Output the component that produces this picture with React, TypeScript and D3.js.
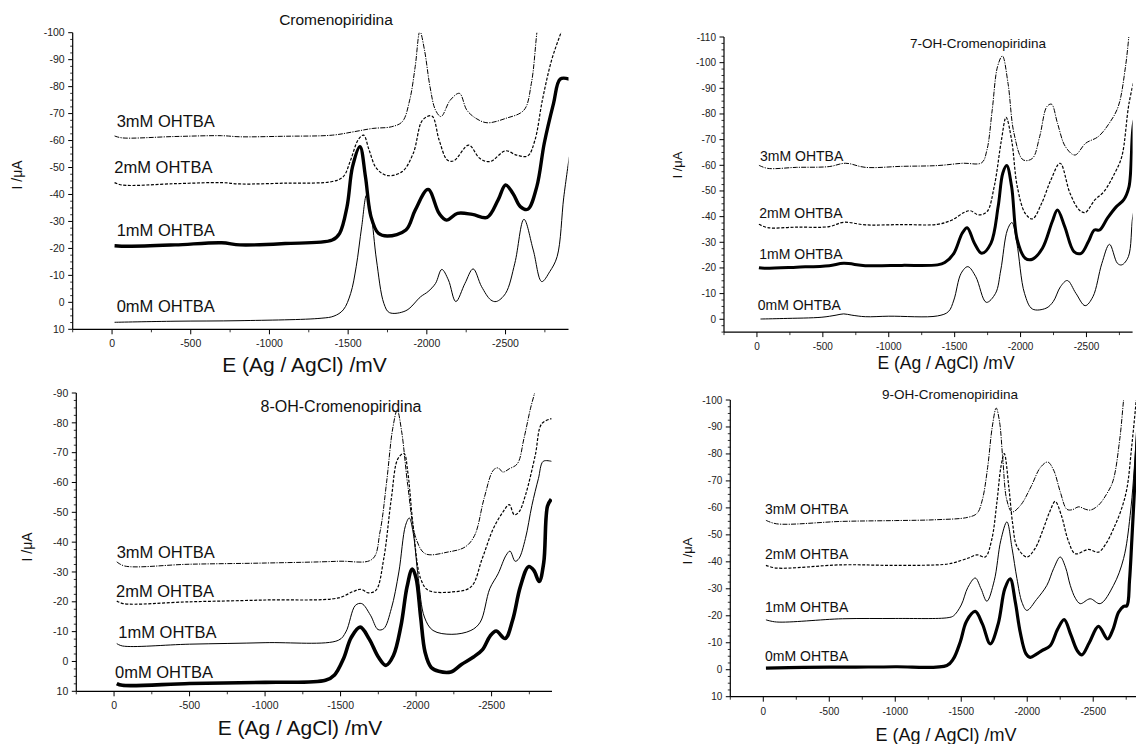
import React from 'react';
import * as d3 from 'd3';

type Pt = [number, number]; // [E in mV, I in µA]

// ---- shared labels and ticks ----
const seriesNames = ['0mM OHTBA', '1mM OHTBA', '2mM OHTBA', '3mM OHTBA'];
const xTickValues = [0, -500, -1000, -1500, -2000, -2500];
const yTicksCromeno = [10, 0, -10, -20, -30, -40, -50, -60, -70, -80, -90, -100];
const yTicks7OH = [0, -10, -20, -30, -40, -50, -60, -70, -80, -90, -100, -110];
const yTicks8OH = [10, 0, -10, -20, -30, -40, -50, -60, -70, -80, -90];
const yTicks9OH = [10, 0, -10, -20, -30, -40, -50, -60, -70, -80, -90, -100];

// ---- Cromenopiridina ----
const cromeno0: Pt[] = [[-16,7.4],[-400,7],[-813,6.8],[-1328,5.9],[-1410,5.1],[-1469,2.8],[-1516,-3.3],[-1551,-13.2],[-1586,-28],[-1617,-39.8],[-1645,-33],[-1680,-15.7],[-1727,0.4],[-1762,3.8],[-1867,3.1],[-1961,-2.1],[-2008,-4],[-2055,-7],[-2095,-12.2],[-2137,-8.3],[-2184,-0.3],[-2242,-7],[-2294,-12.4],[-2348,-5.8],[-2406,-0.9],[-2441,-0.3],[-2500,-3.3],[-2559,-14.5],[-2617,-30.8],[-2676,-19.4],[-2730,-7.7],[-2781,-11.4],[-2828,-17],[-2870,-39],[-2905,-54]];
const cromeno1: Pt[] = [[-16,-21],[-100,-20.8],[-400,-21.3],[-696,-22.1],[-813,-21.3],[-1100,-21.8],[-1399,-23.1],[-1446,-25.6],[-1493,-35.5],[-1528,-50.3],[-1575,-57.7],[-1610,-46.6],[-1645,-31.8],[-1692,-25.6],[-1750,-24.6],[-1867,-26.8],[-1926,-34.2],[-2008,-41.9],[-2078,-33],[-2125,-30.5],[-2195,-33],[-2289,-32.6],[-2383,-31.5],[-2453,-38],[-2500,-43.5],[-2547,-40.4],[-2594,-35.5],[-2641,-34.5],[-2699,-43],[-2746,-59],[-2805,-73.8],[-2847,-82.8],[-2905,-82.8]];
const cromeno2: Pt[] = [[-16,-44.4],[-63,-43.5],[-400,-44],[-696,-44.4],[-813,-43.9],[-1100,-44.2],[-1399,-44.8],[-1469,-46.6],[-1516,-52.8],[-1563,-60.2],[-1598,-62],[-1633,-56.5],[-1680,-49.7],[-1750,-47],[-1844,-48.5],[-1914,-55.3],[-1973,-67.6],[-2032,-69.1],[-2078,-60.2],[-2130,-52.8],[-2172,-52.5],[-2266,-58.3],[-2336,-53.4],[-2401,-52.2],[-2500,-56.2],[-2570,-54.6],[-2641,-54.3],[-2687,-60.2],[-2734,-75],[-2793,-89.9],[-2852,-100],[-2900,-108]];
const cromeno3: Pt[] = [[-16,-61.7],[-63,-61],[-400,-61.5],[-696,-61.8],[-813,-61.4],[-1100,-61.6],[-1399,-62],[-1539,-63.3],[-1657,-64.5],[-1774,-65.1],[-1844,-67],[-1891,-75],[-1926,-87.4],[-1956,-100.5],[-1985,-93.6],[-2020,-80],[-2055,-71.3],[-2090,-68.9],[-2149,-75],[-2207,-77.5],[-2254,-71.3],[-2313,-68.2],[-2383,-66.6],[-2500,-68.2],[-2617,-71.3],[-2664,-81.2],[-2699,-100],[-2730,-115]];

// ---- 7-OH-Cromenopiridina ----
const oh7_0: Pt[] = [[-27,-0.1],[-200,-0.3],[-493,-0.8],[-600,-1.6],[-658,-2.1],[-720,-1.6],[-822,-1],[-1000,-1.2],[-1370,-1.3],[-1453,-3],[-1494,-7.5],[-1549,-17.9],[-1600,-20.5],[-1660,-16.6],[-1740,-6.6],[-1810,-10.1],[-1850,-19.2],[-1900,-34.8],[-1935,-37.7],[-1972,-29.6],[-2030,-10.1],[-2090,-4],[-2193,-4.3],[-2248,-6.9],[-2303,-12.7],[-2355,-15.1],[-2420,-10.1],[-2490,-5.3],[-2549,-8.8],[-2617,-21.8],[-2675,-29.2],[-2735,-21.8],[-2768,-21.2],[-2818,-24.4],[-2851,-40],[-2884,-47.8]];
const oh7_1: Pt[] = [[-15,-20.1],[-55,-19.9],[-300,-20.3],[-548,-20.9],[-658,-21.8],[-822,-20.9],[-1100,-21],[-1370,-21.2],[-1425,-22.1],[-1494,-25.7],[-1557,-33.5],[-1595,-35.7],[-1650,-29.6],[-1705,-25.7],[-1775,-29.6],[-1830,-43.9],[-1865,-56.9],[-1895,-59.9],[-1932,-51.7],[-1975,-30.9],[-2035,-23.8],[-2090,-23.4],[-2166,-27.7],[-2240,-38],[-2280,-42.6],[-2335,-36.1],[-2405,-26.4],[-2460,-25.7],[-2515,-30.3],[-2560,-34.8],[-2600,-34.8],[-2659,-39.4],[-2727,-43.9],[-2782,-46.5],[-2823,-51.7],[-2864,-77.7],[-2884,-78.3]];
const oh7_2: Pt[] = [[-15,-37],[-82,-35.7],[-300,-35.9],[-548,-36.1],[-658,-37.8],[-822,-36.8],[-1100,-36.9],[-1370,-37],[-1480,-38.7],[-1570,-41.6],[-1620,-42.3],[-1680,-40.7],[-1745,-41.9],[-1800,-51.7],[-1855,-69.9],[-1890,-78.7],[-1932,-69.9],[-1975,-51.7],[-2035,-41.3],[-2090,-39.1],[-2160,-45.2],[-2230,-54.3],[-2300,-60.8],[-2375,-49.1],[-2445,-42.6],[-2490,-41.6],[-2563,-46.5],[-2632,-49.7],[-2714,-56.9],[-2768,-63.4],[-2823,-84.2],[-2884,-98.4]];
const oh7_3: Pt[] = [[-15,-60],[-82,-58.8],[-300,-59.2],[-548,-59.5],[-672,-60.8],[-822,-59.2],[-1100,-59.6],[-1370,-59.9],[-1562,-60.8],[-1705,-61],[-1745,-66],[-1785,-81.6],[-1825,-98.4],[-1862,-102.6],[-1905,-91.9],[-1950,-72.5],[-2020,-62.1],[-2090,-62.7],[-2145,-71.2],[-2200,-82.9],[-2235,-83.8],[-2280,-76.4],[-2340,-67.3],[-2412,-64],[-2494,-68.6],[-2590,-71.2],[-2673,-76.4],[-2741,-82.9],[-2796,-98.4],[-2823,-111]];

// ---- 8-OH-Cromenopiridina ----
const oh8_0: Pt[] = [[-18,7.4],[-55,8],[-500,7.4],[-1000,7],[-1400,6.3],[-1460,4.5],[-1520,-1],[-1570,-8],[-1630,-11.5],[-1690,-7.5],[-1750,-1.5],[-1800,1.3],[-1850,-2],[-1900,-12],[-1940,-25],[-1975,-31],[-2000,-28],[-2030,-15],[-2060,-3],[-2100,2],[-2150,3.3],[-2230,3.5],[-2300,1],[-2380,-1.5],[-2440,-4],[-2490,-8.5],[-2530,-10.2],[-2590,-7.7],[-2640,-14],[-2690,-25],[-2745,-31.8],[-2780,-30.5],[-2815,-26.8],[-2845,-33],[-2870,-52],[-2895,-54.4]];
const oh8_1: Pt[] = [[-18,-6],[-55,-5.2],[-500,-5.8],[-1000,-6.3],[-1485,-7.1],[-1535,-9.9],[-1598,-18.8],[-1640,-19.4],[-1698,-15.5],[-1748,-10.7],[-1786,-11],[-1836,-17.7],[-1886,-30],[-1930,-45.6],[-1955,-48.1],[-1980,-43.4],[-2015,-27.8],[-2055,-14.9],[-2112,-10.4],[-2237,-9.1],[-2363,-10.4],[-2425,-13.2],[-2488,-24.4],[-2543,-29.4],[-2596,-35.6],[-2622,-37],[-2656,-33.6],[-2681,-34.5],[-2724,-41.2],[-2767,-52.3],[-2810,-61.3],[-2842,-67.1],[-2896,-67.1]];
const oh8_2: Pt[] = [[-18,-20.3],[-60,-19.4],[-500,-20],[-1000,-20.6],[-1485,-21.3],[-1585,-23.5],[-1635,-24.2],[-1685,-23],[-1735,-23.9],[-1786,-34.5],[-1836,-54.6],[-1880,-68],[-1920,-69.7],[-1945,-63.5],[-1980,-45.6],[-2030,-27.8],[-2080,-23.9],[-2237,-23.3],[-2363,-25],[-2438,-34.5],[-2511,-44.5],[-2575,-50.1],[-2617,-52.6],[-2650,-49.2],[-2681,-50.1],[-2724,-55.7],[-2789,-69.1],[-2832,-79.7],[-2896,-81.4]];
const oh8_3: Pt[] = [[-18,-33.4],[-70,-32],[-500,-32.6],[-1000,-33],[-1485,-33.6],[-1710,-34.3],[-1761,-43.4],[-1805,-60.2],[-1845,-78],[-1875,-84.2],[-1905,-76.9],[-1945,-59],[-2000,-41.2],[-2062,-36.1],[-2212,-36.7],[-2325,-38.4],[-2388,-42.3],[-2450,-54.6],[-2511,-64.1],[-2543,-64.9],[-2575,-63.5],[-2617,-64.6],[-2671,-66.3],[-2714,-74.7],[-2757,-84.7],[-2789,-91],[-2800,-95]];

// ---- 9-OH-Cromenopiridina ----
const oh9_0: Pt[] = [[-20,-0.6],[-300,-0.9],[-700,-1],[-1000,-1.1],[-1391,-1.6],[-1440,-4],[-1492,-10.2],[-1540,-18],[-1606,-21.6],[-1660,-17],[-1720,-9.6],[-1780,-17],[-1830,-30],[-1871,-33.7],[-1910,-25],[-1947,-13.9],[-1990,-6],[-2023,-4.6],[-2070,-5.8],[-2111,-7.1],[-2174,-8.9],[-2230,-15],[-2280,-18.6],[-2330,-13],[-2380,-7],[-2414,-5.5],[-2470,-10],[-2540,-16.1],[-2609,-11.4],[-2650,-15],[-2692,-21.3],[-2730,-23.5],[-2755,-23.7],[-2775,-33],[-2793,-48.4],[-2826,-79],[-2860,-110]];
const oh9_1: Pt[] = [[-20,-18.5],[-100,-17.7],[-600,-18.9],[-1000,-19],[-1400,-19.3],[-1442,-20],[-1500,-24],[-1550,-30.5],[-1606,-34],[-1650,-30],[-1694,-25.4],[-1750,-33],[-1800,-48],[-1846,-54.8],[-1885,-45],[-1922,-33.8],[-1960,-25],[-1997,-22],[-2070,-26],[-2149,-31.3],[-2200,-37.5],[-2250,-41.8],[-2290,-38],[-2326,-31.3],[-2365,-26.5],[-2402,-24.5],[-2477,-26.3],[-2553,-24.5],[-2654,-31.3],[-2730,-41.2],[-2780,-57.2],[-2826,-85.6],[-2850,-110]];
const oh9_2: Pt[] = [[-20,-38.7],[-100,-37.7],[-600,-38.9],[-1000,-38.7],[-1400,-39.2],[-1500,-40.5],[-1560,-41.5],[-1619,-42.6],[-1682,-41.8],[-1730,-48],[-1770,-62],[-1800,-75],[-1826,-80.1],[-1860,-68],[-1890,-54],[-1922,-45.7],[-1997,-41.8],[-2060,-45],[-2120,-52],[-2170,-58.5],[-2212,-62.4],[-2260,-57],[-2310,-48],[-2364,-43],[-2465,-44.6],[-2540,-43.6],[-2600,-47],[-2654,-52.3],[-2710,-59],[-2755,-67.1],[-2790,-82],[-2826,-100],[-2850,-115]];
const oh9_3: Pt[] = [[-20,-55.4],[-100,-54.1],[-600,-55],[-1000,-55.3],[-1300,-55.6],[-1550,-56.5],[-1620,-58],[-1660,-63],[-1700,-75],[-1735,-90],[-1765,-97],[-1790,-92],[-1815,-78],[-1845,-63],[-1885,-58.5],[-1950,-61],[-2030,-68],[-2100,-75],[-2155,-77],[-2200,-74],[-2250,-66],[-2300,-59.5],[-2340,-59.3],[-2390,-60.4],[-2440,-59.5],[-2480,-59.2],[-2540,-61],[-2600,-65],[-2650,-70],[-2700,-85],[-2730,-100],[-2760,-115]];

const FONT = "'Liberation Sans', Arial, Helvetica, sans-serif";

type PanelCfg = {
  id: string;
  title: string;
  titlePos: [number, number];
  titleSize: number;
  series: Pt[][];
  thick: number; // index of the heavy trace
  thickWidth: number;
  xDomain: [number, number];
  xRange: [number, number];
  yDomain: [number, number];
  yRange: [number, number];
  yTicks: number[];
  tickSize: number;
  labelPos: [number, number][];
  labelSize: number;
  xTitlePos: [number, number];
  xTitleSize: number;
  yTitlePos: [number, number];
  yTitleSize: number;
};

const panels: PanelCfg[] = [
  {
    id: 'p1', title: 'Cromenopiridina', titlePos: [336, 24.5], titleSize: 15.5,
    series: [cromeno0, cromeno1, cromeno2, cromeno3], thick: 1, thickWidth: 3.4,
    xDomain: [250, -2900], xRange: [72.7, 568.5],
    yDomain: [10, -100], yRange: [329.3, 32.7], yTicks: yTicksCromeno, tickSize: 10.5,
    labelPos: [[116.7, 306.7], [116.7, 230.7], [114.3, 167.3], [116.7, 121.7]], labelSize: 16.5,
    xTitlePos: [304.5, 372], xTitleSize: 21, yTitlePos: [17, 175], yTitleSize: 14,
  },
  {
    id: 'p2', title: '7-OH-Cromenopiridina', titlePos: [978, 48], titleSize: 13.5,
    series: [oh7_0, oh7_1, oh7_2, oh7_3], thick: 1, thickWidth: 3,
    xDomain: [250, -2850], xRange: [724, 1132.6],
    yDomain: [5, -110], yRange: [332.1, 37], yTicks: yTicks7OH, tickSize: 10,
    labelPos: [[757.7, 305], [759.3, 254], [759.3, 213.3], [760, 155.7]], labelSize: 14,
    xTitlePos: [946, 368.5], xTitleSize: 17.5, yTitlePos: [677, 165], yTitleSize: 13,
  },
  {
    id: 'p3', title: '8-OH-Cromenopiridina', titlePos: [341, 412], titleSize: 16,
    series: [oh8_0, oh8_1, oh8_2, oh8_3], thick: 0, thickWidth: 3.6,
    xDomain: [250, -2900], xRange: [76.3, 552],
    yDomain: [10, -90], yRange: [691.3, 393], yTicks: yTicks8OH, tickSize: 10.5,
    labelPos: [[115, 672], [118.3, 632], [116, 591], [116.7, 552]], labelSize: 16.5,
    xTitlePos: [300, 735], xTitleSize: 21, yTitlePos: [27, 547], yTitleSize: 14,
  },
  {
    id: 'p4', title: '9-OH-Cromenopiridina', titlePos: [950, 399], titleSize: 13.5,
    series: [oh9_0, oh9_1, oh9_2, oh9_3], thick: 0, thickWidth: 3.2,
    xDomain: [250, -2900], xRange: [730.3, 1146],
    yDomain: [10, -100], yRange: [696.7, 400], yTicks: yTicks9OH, tickSize: 10,
    labelPos: [[765, 656.3], [765, 607], [765, 553.7], [765, 508.7]], labelSize: 14,
    xTitlePos: [946, 741], xTitleSize: 18, yTitlePos: [687, 551], yTitleSize: 13,
  },
];

function Panel({ cfg }: { cfg: PanelCfg }) {
  const x = d3.scaleLinear().domain(cfg.xDomain).range(cfg.xRange);
  const y = d3.scaleLinear().domain(cfg.yDomain).range(cfg.yRange);
  const line = d3
    .line<Pt>()
    .x((d) => x(d[0]))
    .y((d) => y(d[1]))
    .curve(d3.curveCatmullRom.alpha(0.5));

  const [xl, xr] = cfg.xRange;
  const [yb, yt] = cfg.yRange;

  const yMinor = d3
    .range(cfg.yDomain[0], cfg.yDomain[1] - 0.01, -2.5)
    .filter((v) => Math.abs(v % 10) > 0.01);
  const xMinor = d3
    .range(cfg.xDomain[0], cfg.xDomain[1] - 1, -250)
    .filter((v) => Math.abs(v % 500) > 0.01);

  const styleFor = (i: number) => {
    if (i === cfg.thick) return { w: cfg.thickWidth, dash: undefined as string | undefined };
    if (i === 2) return { w: 1.2, dash: '3,1.6' };
    if (i === 3) return { w: 1, dash: '5,1.2,1.2,1.2' };
    return { w: 1, dash: undefined };
  };

  return (
    <g>
      <defs>
        <clipPath id={`clip-${cfg.id}`}>
          <rect x={xl} y={yt} width={xr - xl} height={yb - yt} />
        </clipPath>
      </defs>

      {/* voltammograms */}
      <g clipPath={`url(#clip-${cfg.id})`}>
        {cfg.series.map((s, i) => {
          const st = styleFor(i);
          return (
            <path
              key={i}
              d={line(s) || ''}
              fill="none"
              stroke="#000"
              strokeWidth={st.w}
              strokeDasharray={st.dash}
              strokeLinejoin="round"
              strokeLinecap="butt"
            />
          );
        })}
      </g>

      {/* y axis */}
      <line x1={xl} x2={xl} y1={yt} y2={yb} stroke="#000" strokeWidth={1.2} />
      {cfg.yTicks.map((v) => (
        <g key={`yt${v}`}>
          <line x1={xl - 4.5} x2={xl} y1={y(v)} y2={y(v)} stroke="#000" strokeWidth={1} />
          <text
            x={xl - 8}
            y={y(v)}
            dy="0.35em"
            textAnchor="end"
            fontFamily={FONT}
            fontSize={cfg.tickSize}
            fill="#222"
          >
            {v}
          </text>
        </g>
      ))}
      {yMinor.map((v) => (
        <line key={`ym${v}`} x1={xl - 2.5} x2={xl} y1={y(v)} y2={y(v)} stroke="#000" strokeWidth={0.8} />
      ))}

      {/* x axis */}
      <line x1={xl} x2={xr} y1={yb} y2={yb} stroke="#000" strokeWidth={1.2} />
      {xTickValues.map((v) => (
        <g key={`xt${v}`}>
          <line x1={x(v)} x2={x(v)} y1={yb} y2={yb + 5} stroke="#000" strokeWidth={1} />
          <text
            x={x(v)}
            y={yb + 14.5}
            dy="0.35em"
            textAnchor="middle"
            fontFamily={FONT}
            fontSize={cfg.tickSize}
            fill="#222"
          >
            {v}
          </text>
        </g>
      ))}
      {xMinor.map((v) => (
        <line key={`xm${v}`} x1={x(v)} x2={x(v)} y1={yb} y2={yb + 3} stroke="#000" strokeWidth={0.8} />
      ))}

      {/* series labels */}
      {seriesNames.map((name, i) => (
        <text
          key={name}
          x={cfg.labelPos[i][0]}
          y={cfg.labelPos[i][1]}
          dy="0.35em"
          fontFamily={FONT}
          fontSize={cfg.labelSize}
          fill="#111"
        >
          {name}
        </text>
      ))}

      {/* titles */}
      <text
        x={cfg.titlePos[0]}
        y={cfg.titlePos[1]}
        textAnchor="middle"
        fontFamily={FONT}
        fontSize={cfg.titleSize}
        fill="#111"
      >
        {cfg.title}
      </text>
      <text
        x={cfg.xTitlePos[0]}
        y={cfg.xTitlePos[1]}
        textAnchor="middle"
        fontFamily={FONT}
        fontSize={cfg.xTitleSize}
        fill="#111"
      >
        E (Ag / AgCl) /mV
      </text>
      <text
        transform={`translate(${cfg.yTitlePos[0]},${cfg.yTitlePos[1]}) rotate(-90)`}
        textAnchor="middle"
        dy="0.35em"
        fontFamily={FONT}
        fontSize={cfg.yTitleSize}
        fill="#111"
      >
        I /μA
      </text>
    </g>
  );
}

export default function App() {
  return (
    <svg
      width={1136}
      height={744}
      viewBox="0 0 1136 744"
      style={{ position: 'absolute', left: 0, top: 0, background: '#fff' }}
    >
      <rect x={0} y={0} width={1136} height={744} fill="#fff" />
      {panels.map((p) => (
        <Panel key={p.id} cfg={p} />
      ))}
    </svg>
  );
}
